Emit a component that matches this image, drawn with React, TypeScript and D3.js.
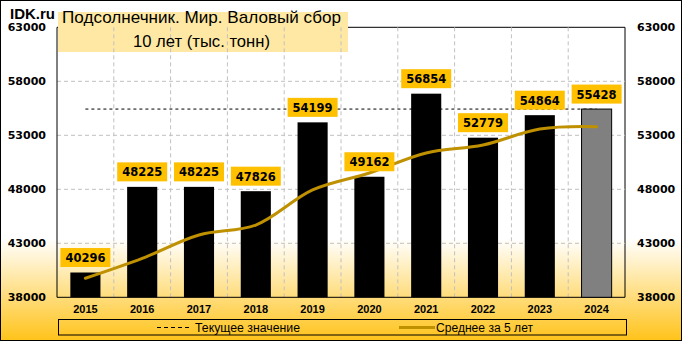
import React from "react";
import * as d3 from "d3";

const years = ["2015", "2016", "2017", "2018", "2019", "2020", "2021", "2022", "2023", "2024"];
const values = [40296, 48225, 48225, 47826, 54199, 49162, 56854, 52779, 54864, 55428];
const avg5 = [39760, 41600, 43770, 44690, 47940, 49510, 51360, 52100, 53580, 53800];
const yTicks = [38000, 43000, 48000, 53000, 58000, 63000];
const currentValue = 55428;
const titleLine1 = "Подсолнечник. Мир. Валовый сбор";
const titleLine2 = "10 лет (тыс. тонн)";
const legendCurrent = "Текущее значение";
const legendAvg = "Среднее за 5 лет";

const W = 682;
const H = 341;
const L = 57;
const R = 625;
const T = 27.3;
const B = 297.3;

export default function App() {
  const x = d3.scaleBand<string>().domain(years).range([L, R]).paddingInner(0.47).paddingOuter(0.235);
  const y = d3.scaleLinear().domain([38000, 63000]).range([B, T]);
  const step = x.step();
  const cx = (yr: string) => (x(yr) as number) + x.bandwidth() / 2;
  const line = d3
    .line<number>()
    .x((_, i) => cx(years[i]))
    .y((d) => y(d))
    .curve(d3.curveCatmullRom.alpha(0.5));

  const boundaries = years.slice(1).map((yr) => L + years.indexOf(yr) * step);

  return (
    <svg width={W} height={H} style={{ position: "absolute", left: 0, top: 0 }}>
      <defs>
        <linearGradient id="bg" x1="0" y1="0" x2="0" y2="1">
          <stop offset="0" stopColor="#FFFFFF" />
          <stop offset="0.70" stopColor="#FFFFFF" />
          <stop offset="1" stopColor="#FFC31A" />
        </linearGradient>
      </defs>
      <rect x={0.5} y={0.5} width={W - 1} height={H - 1} fill="url(#bg)" stroke="#000" />

      {/* plot border */}
      <line x1={L} x2={R} y1={T} y2={T} stroke="#000" />
      <line x1={R} x2={R} y1={T} y2={B} stroke="#000" />

      {/* title box */}
      <rect x={58} y={12} width={290} height={40} fill="#FFE8A3" />

      {/* grid */}
      {yTicks.slice(1, -1).map((t) => (
        <line key={t} x1={L} x2={R} y1={y(t)} y2={y(t)} stroke="#C0C0C0" strokeDasharray="4,3" />
      ))}
      {boundaries.map((bx, i) => (
        <line key={i} x1={bx} x2={bx} y1={T} y2={B} stroke="#C0C0C0" strokeDasharray="4,3" />
      ))}

      <line x1={L} x2={L} y1={T} y2={B} stroke="#000" />
      <line x1={L} x2={R} y1={B} y2={B} stroke="#000" />

      {/* current value dashed */}
      <line
        x1={cx(years[0])}
        x2={cx(years[years.length - 1])}
        y1={y(currentValue)}
        y2={y(currentValue)}
        stroke="#000"
        strokeDasharray="3,3"
      />

      {/* bars */}
      {values.map((v, i) => {
        const last = i === values.length - 1;
        return (
          <rect
            key={years[i]}
            x={x(years[i])}
            y={y(v)}
            width={x.bandwidth()}
            height={B - y(v)}
            fill={last ? "#808080" : "#000"}
            stroke={last ? "#000" : "none"}
          />
        );
      })}

      {/* average line */}
      <path d={line(avg5) || ""} fill="none" stroke="#BF9000" strokeWidth={3} strokeLinecap="round" />

      {/* value labels */}
      {values.map((v, i) => {
        const c = cx(years[i]);
        const top = y(v) - 24.5;
        return (
          <g key={"l" + i}>
            <rect x={c - 25} y={top} width={50} height={19} fill="#FFC000" />
            <text
              x={c}
              y={top + 14}
              textAnchor="middle"
              fontFamily="DejaVu Sans"
              fontWeight="bold"
              fontSize={11.5}
              fill="#000"
            >
              {v}
            </text>
          </g>
        );
      })}

      {/* y axis labels */}
      {yTicks.map((t) => (
        <g key={"y" + t}>
          <text x={46} y={y(t) + 4} textAnchor="end" fontFamily="DejaVu Sans" fontWeight="bold" fontSize={11} fill="#000">
            {t}
          </text>
          <text x={637} y={y(t) + 4} textAnchor="start" fontFamily="DejaVu Sans" fontWeight="bold" fontSize={11} fill="#000">
            {t}
          </text>
        </g>
      ))}

      {/* x labels */}
      {years.map((yr) => (
        <text
          key={"x" + yr}
          x={cx(yr)}
          y={313}
          textAnchor="middle"
          fontFamily="Liberation Sans, Arial, sans-serif"
          fontWeight="bold"
          fontSize={11}
          fill="#000"
        >
          {yr}
        </text>
      ))}

      {/* title */}
      <text
        x={62}
        y={23}
        fontFamily="Liberation Sans, Arial, sans-serif"
        fontSize={17}
        textLength={279}
        lengthAdjust="spacingAndGlyphs"
        fill="#000"
      >
        {titleLine1}
      </text>
      <text
        x={133}
        y={47}
        fontFamily="Liberation Sans, Arial, sans-serif"
        fontSize={17}
        textLength={137}
        lengthAdjust="spacingAndGlyphs"
        fill="#000"
      >
        {titleLine2}
      </text>
      <text x={10} y={19} fontFamily="Liberation Sans, Arial, sans-serif" fontWeight="bold" fontSize={15} fill="#000">
        IDK.ru
      </text>

      {/* legend */}
      <rect x={58.5} y={319.5} width={568} height={15.5} fill="none" stroke="#000" />
      <line x1={157} x2={189} y1={327.5} y2={327.5} stroke="#000" strokeDasharray="4,3" />
      <text
        x={195}
        y={331.5}
        fontFamily="Liberation Sans, Arial, sans-serif"
        fontSize={12}
        textLength={105}
        lengthAdjust="spacingAndGlyphs"
        fill="#000"
      >
        {legendCurrent}
      </text>
      <line x1={399} x2={435} y1={327.5} y2={327.5} stroke="#BF9000" strokeWidth={3} />
      <text
        x={436}
        y={331.5}
        fontFamily="Liberation Sans, Arial, sans-serif"
        fontSize={12}
        textLength={97}
        lengthAdjust="spacingAndGlyphs"
        fill="#000"
      >
        {legendAvg}
      </text>
    </svg>
  );
}
